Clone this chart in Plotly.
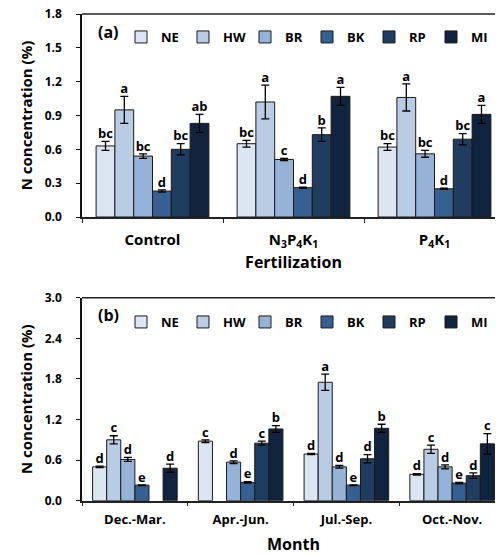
import plotly.graph_objects as go

series = ["NE", "HW", "BR", "BK", "RP", "MI"]
colors = ["#dce6f1", "#b8cce4", "#95b3d7", "#366092", "#1f3d5f", "#11243f"]

# Panel (a): fertilization
cats_a = ["Control", "N<sub>3</sub>P<sub>4</sub>K<sub>1</sub>", "P<sub>4</sub>K<sub>1</sub>"]
vals_a = {
    "NE": [0.63, 0.65, 0.62],
    "HW": [0.95, 1.02, 1.06],
    "BR": [0.54, 0.51, 0.56],
    "BK": [0.23, 0.26, 0.25],
    "RP": [0.60, 0.73, 0.69],
    "MI": [0.83, 1.07, 0.91],
}
err_a = {
    "NE": [0.04, 0.03, 0.03],
    "HW": [0.12, 0.15, 0.12],
    "BR": [0.02, 0.01, 0.03],
    "BK": [0.01, 0.005, 0.005],
    "RP": [0.05, 0.06, 0.05],
    "MI": [0.08, 0.08, 0.08],
}
let_a = {
    "NE": ["bc", "bc", "bc"],
    "HW": ["a", "a", "a"],
    "BR": ["bc", "c", "bc"],
    "BK": ["d", "d", "d"],
    "RP": ["bc", "b", "bc"],
    "MI": ["ab", "a", "a"],
}

# Panel (b): month
cats_b = ["Dec.-Mar.", "Apr.-Jun.", "Jul.-Sep.", "Oct.-Nov."]
vals_b = {
    "NE": [0.50, 0.88, 0.69, 0.39],
    "HW": [0.90, None, 1.75, 0.76],
    "BR": [0.61, 0.57, 0.50, 0.50],
    "BK": [0.23, 0.27, 0.23, 0.26],
    "RP": [None, 0.85, 0.62, 0.37],
    "MI": [0.48, 1.06, 1.07, 0.84],
}
err_b = {
    "NE": [0.01, 0.02, 0.01, 0.01],
    "HW": [0.06, 0, 0.12, 0.06],
    "BR": [0.03, 0.02, 0.02, 0.03],
    "BK": [0.005, 0.01, 0.005, 0.01],
    "RP": [0, 0.03, 0.06, 0.04],
    "MI": [0.06, 0.05, 0.06, 0.15],
}
let_b = {
    "NE": ["d", "c", "d", "d"],
    "HW": ["c", "", "a", "c"],
    "BR": ["d", "d", "d", "d"],
    "BK": ["e", "e", "e", "e"],
    "RP": ["", "c", "d", "d"],
    "MI": ["d", "b", "b", "c"],
}

# y-axis tick values
yticks_a = [0.0, 0.3, 0.6, 0.9, 1.2, 1.5, 1.8]
yticks_b = [0.0, 0.6, 1.2, 1.8, 2.4, 3.0]

FONT = "Open Sans"
# the page body adds an 8px margin around the figure
OFF = 8
W, H = 497, 547

def px(x):
    return (x - OFF) / W

def py(y):
    return 1 - (y - OFF) / H

fig = go.Figure()

def add_panel(cats, vals, errs, lets, xa, ya, legend):
    for s, c in zip(series, colors):
        fig.add_trace(go.Bar(
            x=cats, y=vals[s], name=s, marker=dict(color=c, line=dict(color="#1a1a1a", width=1)),
            error_y=dict(type="data", array=errs[s], color="black", thickness=1.3, width=4),
            xaxis=xa, yaxis=ya, legend=legend, offsetgroup=s,
        ))
    for s in series:
        ys = [None if v is None else v + e for v, e in zip(vals[s], errs[s])]
        fig.add_trace(go.Scatter(
            x=cats, y=ys, mode="text", text=lets[s], textposition="top center",
            textfont=dict(family=FONT, size=13, color="black", weight="bold"),
            xaxis=xa, yaxis=ya, showlegend=False, offsetgroup=s, hoverinfo="skip",
        ))

add_panel(cats_a, vals_a, err_a, let_a, "x", "y", "legend")
add_panel(cats_b, vals_b, err_b, let_b, "x2", "y2", "legend2")

xdom = [px(82), 1.0]
ya_dom = [py(217), py(14)]
yb_dom = [py(500.7), py(297.7)]

axis_font = dict(family=FONT, size=12, color="black", weight="bold")
title_font = dict(family=FONT, size=15, color="black", weight="bold")
xtitle_font = dict(family=FONT, size=16, color="black", weight="bold")

common_x = dict(showline=True, linecolor="#222", linewidth=1.5, ticks="outside", ticklen=4,
                tickcolor="#222", tickson="boundaries", showgrid=False, automargin=False)
common_y = dict(showline=True, linecolor="#111", linewidth=1.5, ticks="outside", ticklen=4,
                tickcolor="#111", showgrid=False, zeroline=False, tickfont=axis_font,
                tickformat=".1f", ticklabelstandoff=12, automargin=False, tickmode="array",
                ticklabeloverflow="allow")

leg_font = dict(family=FONT, size=13, color="black", weight="bold")

fig.update_layout(
    width=W, height=H, margin=dict(l=0, r=0, t=0, b=0, autoexpand=False),
    paper_bgcolor="white", plot_bgcolor="white",
    barmode="group", bargap=0.2, bargroupgap=0,
    scattermode="group", scattergap=0.2,
    xaxis=dict(domain=xdom, anchor="y", **common_x, ticklabelstandoff=8,
               tickfont=dict(family=FONT, size=15, color="black", weight="bold"),
               title=dict(text="Fertilization", font=xtitle_font, standoff=3)),
    yaxis=dict(domain=ya_dom, anchor="x", range=[0, yticks_a[-1] + 1e-6], tickvals=yticks_a,
               **common_y, title=dict(text="N concentration (%)", font=title_font, standoff=8)),
    xaxis2=dict(domain=xdom, anchor="y2", **common_x, ticklabelstandoff=6,
                tickfont=dict(family=FONT, size=13, color="black", weight="bold"),
                title=dict(text="Month", font=xtitle_font, standoff=13)),
    yaxis2=dict(domain=yb_dom, anchor="x2", range=[0, yticks_b[-1] + 1e-6], tickvals=yticks_b,
                **common_y, title=dict(text="N concentration (%)", font=title_font, standoff=8)),
    legend=dict(orientation="h", x=px(121), y=py(37), xanchor="left", yanchor="middle",
                entrywidth=17, font=leg_font, bgcolor="rgba(0,0,0,0)", itemclick=False),
    legend2=dict(orientation="h", x=px(121), y=py(322), xanchor="left", yanchor="middle",
                 entrywidth=17, font=leg_font, bgcolor="rgba(0,0,0,0)", itemclick=False),
    showlegend=True,
)

# top border of each panel
for xr, yr in [("x domain", "y domain"), ("x2 domain", "y2 domain")]:
    fig.add_shape(type="line", xref=xr, yref=yr, x0=0, x1=1, y0=1, y1=1,
                  line=dict(color="#222", width=1.5))

fig.add_annotation(text="(a)", xref="paper", yref="paper", x=px(96), y=py(32),
                   xanchor="left", yanchor="middle", showarrow=False,
                   font=dict(family=FONT, size=16, color="black", weight="bold"))
fig.add_annotation(text="(b)", xref="paper", yref="paper", x=px(96), y=py(315),
                   xanchor="left", yanchor="middle", showarrow=False,
                   font=dict(family=FONT, size=16, color="black", weight="bold"))

fig.write_html("out.html")
